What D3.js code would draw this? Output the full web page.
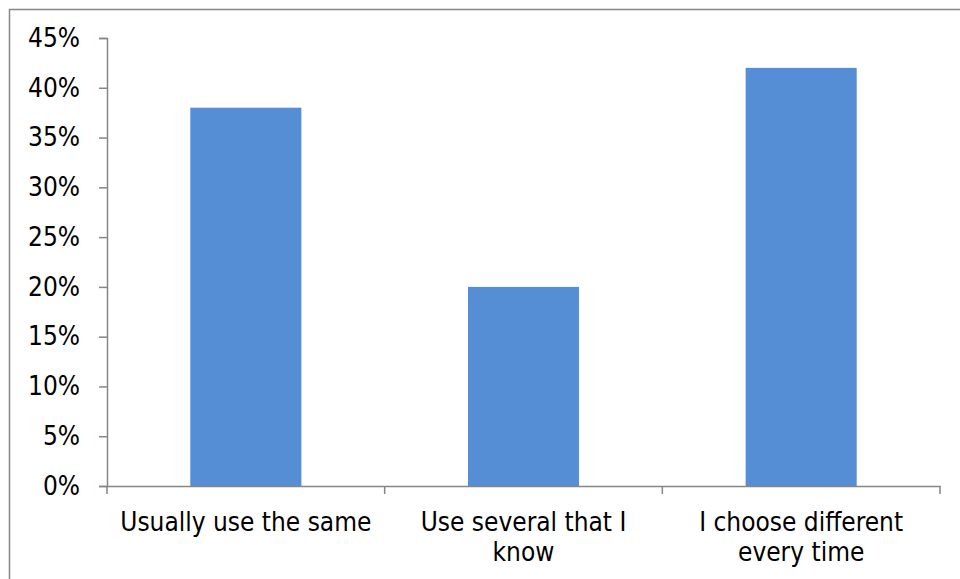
<!DOCTYPE html>
<html><head><meta charset="utf-8">
<script src="https://cdn.jsdelivr.net/npm/d3@7"></script>
<style>body{margin:0;background:#fff;} svg{display:block;}</style>
</head><body>
<script>
const categories = ["Usually use the same", "Use several that I know", "I choose different every time"];
const labelLines = [["Usually use the same"], ["Use several that I", "know"], ["I choose different", "every time"]];
const values = [0.38, 0.20, 0.42];
const yTicks = [0, 0.05, 0.10, 0.15, 0.20, 0.25, 0.30, 0.35, 0.40, 0.45];

(function () {
const W = 960, H = 579;
const svg = d3.select("body").append("svg").attr("width", W).attr("height", H);
svg.append("rect").attr("x", 9.5).attr("y", 9.5).attr("width", W + 20).attr("height", H + 20)
  .attr("fill", "#fff").attr("stroke", "#868686").attr("stroke-width", 1.5);

const mLeft = 107, mRight = 940, mTop = 38, mBottom = 486;
const x = d3.scaleBand().domain(categories).range([mLeft, mRight]).padding(0);
const y = d3.scaleLinear().domain([0, 0.45]).range([mBottom, mTop]);
const font = "'DejaVu Sans Condensed', 'DejaVu Sans', sans-serif";
const fs = 26;
const axisColor = "#868686";

const bw = x.bandwidth() * 0.4;
svg.selectAll("rect.bar").data(values).enter().append("rect").attr("class", "bar")
  .attr("x", (d, i) => x(categories[i]) + (x.bandwidth() - bw) / 2)
  .attr("y", d => y(d))
  .attr("width", bw)
  .attr("height", d => y(0) - y(d))
  .attr("fill", "#558ED5");

const yAxis = svg.append("g").attr("transform", `translate(${mLeft},0)`)
  .call(d3.axisLeft(y).tickValues(yTicks).tickFormat(d3.format(".0%")).tickSize(8).tickPadding(19));
yAxis.select(".domain").attr("stroke", axisColor).attr("stroke-width", 1.5);
yAxis.selectAll(".tick line").attr("stroke", axisColor).attr("stroke-width", 1.5);
yAxis.selectAll(".tick text").attr("font-family", font).attr("font-size", fs).attr("fill", "#000");

const xAxis = svg.append("g").attr("transform", `translate(0,${mBottom})`)
  .call(d3.axisBottom(x).tickSize(0).tickFormat(""));
xAxis.select(".domain").attr("stroke", axisColor).attr("stroke-width", 1.5);
xAxis.selectAll(".tick").remove();
const edges = [mLeft, ...categories.map(c => x(c) + x.bandwidth())];
xAxis.selectAll("line.sep").data(edges).enter().append("line")
  .attr("x1", d => d).attr("x2", d => d).attr("y1", 0).attr("y2", 8)
  .attr("stroke", axisColor).attr("stroke-width", 1.5);

categories.forEach((c, i) => {
  const t = svg.append("text").attr("x", x(c) + x.bandwidth() / 2).attr("y", 531)
    .attr("text-anchor", "middle").attr("font-family", font).attr("font-size", fs).attr("fill", "#000");
  labelLines[i].forEach((ln, j) => {
    t.append("tspan").attr("x", x(c) + x.bandwidth() / 2).attr("dy", j === 0 ? 0 : 30).text(ln);
  });
});
})();
</script>
</body></html>
